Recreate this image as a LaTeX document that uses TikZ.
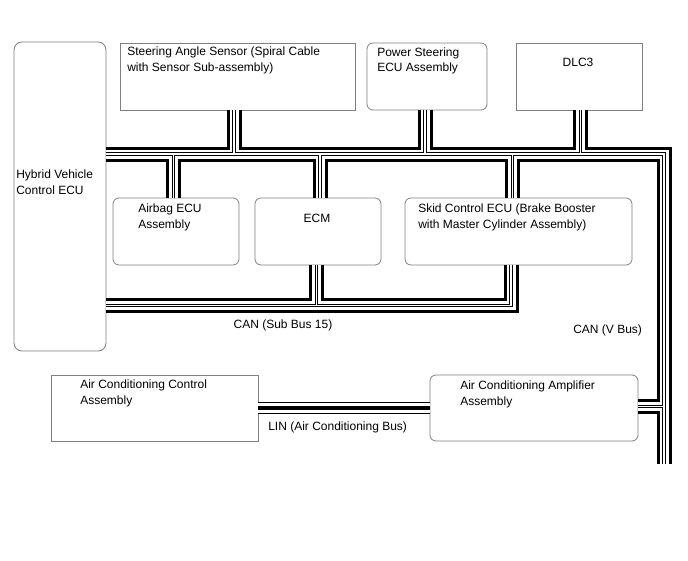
\documentclass[tikz,border=0pt]{standalone}
\usepackage{fontspec}
\setmainfont{Liberation Sans}
\usetikzlibrary{fit}

\tikzset{
  ecu/.style={draw=black!50, line width=0.6pt, rounded corners=4.5pt, inner sep=0pt},
  sqbox/.style={draw=black!50, line width=0.6pt, inner sep=0pt},
  lbl/.style={anchor=base west, inner sep=0pt, align=left, font=\fontsize{9}{12}\selectfont},
  canbus/.style={black, line width=11.25pt,
    postaction={draw, white, line width=6.75pt},
    postaction={draw, black, line width=2.6pt},
    postaction={draw, white, line width=0.9pt}},
  linbus/.style={black, line width=9pt,
    postaction={draw, white, line width=7.1pt},
    postaction={draw, black, line width=3pt}}
}

\begin{document}
\begin{tikzpicture}[x=0.75pt, y=-0.75pt]
  \useasboundingbox (0,0) rectangle (688,560);
  % units are pixels of the sheet, y runs downwards
  \node[ecu, rounded corners=6pt, fit={(14,42) (106,351)}] (hv) {};
  \node[sqbox, fit={(120,43) (355,110)}] (steer) {};
  \node[ecu, fit={(367,43) (487,110)}] (pwrstr) {};
  \node[sqbox, fit={(516,43) (642,110)}] (dlc) {};
  \node[ecu, fit={(113,198) (239,265)}] (airbag) {};
  \node[ecu, fit={(255,198) (381,265)}] (ecm) {};
  \node[ecu, fit={(405,198) (632,265)}] (skid) {};
  \node[sqbox, fit={(51,375) (258,441)}] (accon) {};
  \node[ecu, fit={(430,375) (638,441)}] (acamp) {};

  % two-line labels sit on the baseline of their last line
  \node[lbl] (hv-t) at (16,194) {Hybrid Vehicle\\Control ECU};
  \node[lbl] (steer-t) at (127,71) {Steering Angle Sensor (Spiral Cable\\with Sensor Sub-assembly)};
  \node[lbl] (pwrstr-t) at (377,72) {Power Steering\\ECU Assembly};
  \node[lbl, anchor=base] (dlc-t) at (578,67) {DLC3};
  \node[lbl] (airbag-t) at (138,228) {Airbag ECU\\Assembly};
  \node[lbl, anchor=base] (ecm-t) at (317,222) {ECM};
  \node[lbl] (skid-t) at (418,228) {Skid Control ECU (Brake Booster\\with Master Cylinder Assembly)};
  \node[lbl] (accon-t) at (80,404) {Air Conditioning Control\\Assembly};
  \node[lbl] (acamp-t) at (460,405) {Air Conditioning Amplifier\\Assembly};
  \node[lbl, anchor=base] (sub15-t) at (283,328) {CAN (Sub Bus 15)};
  \node[lbl] (vbus-t) at (573,333) {CAN (V Bus)};
  \node[lbl] (lin-t) at (268,430) {LIN (Air Conditioning Bus)};

  \coordinate (vcorner) at (664,154);
  \coordinate (vend) at (664,464);
  \coordinate (jsteer) at (234,154);
  \coordinate (jpwr) at (425,154);
  \coordinate (jdlc) at (580.5,154);
  \coordinate (jair) at (173.5,154);
  \coordinate (jecm) at (320,154);
  \coordinate (jskid) at (512.5,154);
  \coordinate (jamp) at (664,406.5);
  \coordinate (scorner) at (511,305.5);
  \coordinate (jecmb) at (316.5,305.5);
  \coordinate (lin) at (0,408);

  \draw[canbus] (hv.east |- vcorner) -- (vcorner) -- (vend)
    (jsteer) -- (jsteer |- steer.south)
    (jpwr) -- (jpwr |- pwrstr.south)
    (jdlc) -- (jdlc |- dlc.south)
    (jair) -- (jair |- airbag.north)
    (jecm) -- (jecm |- ecm.north)
    (jskid) -- (jskid |- skid.north)
    (jamp) -- (jamp -| acamp.east);
  \draw[canbus] (hv.east |- scorner) -- (scorner) -- (scorner |- skid.south)
    (jecmb) -- (jecmb |- ecm.south);
  \draw[linbus] (accon.east |- lin) -- (acamp.west |- lin);
\end{tikzpicture}
\end{document}
